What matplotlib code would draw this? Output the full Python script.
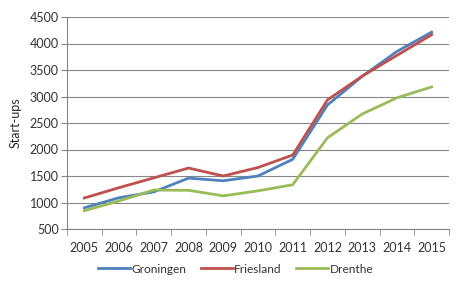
import matplotlib
matplotlib.use("Agg")
import matplotlib.pyplot as plt
import numpy as np

years = ["2005", "2006", "2007", "2008", "2009", "2010", "2011", "2012", "2013", "2014", "2015"]
groningen = [900, 1090, 1200, 1460, 1410, 1500, 1815, 2840, 3380, 3850, 4215]
friesland = [1085, 1280, 1465, 1650, 1500, 1660, 1895, 2935, 3385, 3775, 4165]
drenthe = [845, 1030, 1235, 1230, 1125, 1220, 1335, 2220, 2670, 2975, 3180]

plt.rcParams['font.family'] = ['Lato', 'DejaVu Sans']

fig = plt.figure(figsize=(4.6, 2.84), dpi=100)
ax = fig.add_axes([67/460, 1-229/284, (449-67)/460, (229-17)/284])

x = np.arange(len(years))
ax.plot(x, groningen, color='#4F81BD', lw=2.0, label='Groningen')
ax.plot(x, friesland, color='#C0504D', lw=2.0, label='Friesland')
ax.plot(x, drenthe, color='#9BBB59', lw=2.0, label='Drenthe')

ax.set_xlim(-0.5, len(years) - 0.5)
ax.set_ylim(500, 4500)
ax.set_yticks(range(500, 4501, 500))
ax.set_xticks(x)
ax.set_xticklabels(years)
ax.set_xticks(np.arange(-0.5, len(years), 1), minor=True)
ax.tick_params(axis='x', which='major', length=0, pad=9, labelsize=9, colors='#333333')
ax.tick_params(axis='x', which='minor', length=4, color='#868686')
ax.tick_params(axis='y', length=4, color='#868686', labelsize=9, colors='#333333', pad=2)
ax.tick_params(axis='y', direction='out')

ax.grid(axis='y', color='#868686', lw=0.8)
ax.set_axisbelow(True)
for s in ['top', 'right']:
    ax.spines[s].set_visible(False)
ax.spines['left'].set_color('#868686')
ax.spines['bottom'].set_color('#868686')

ax.set_ylabel('Start-ups', fontsize=9, color='#262626', labelpad=6)

fig.legend(loc='lower center', bbox_to_anchor=(0.512, -0.005), ncol=3, frameon=False,
           fontsize=8.6, handlelength=2.7, handletextpad=0.1, columnspacing=1.2,
           labelcolor='#333333')

fig.savefig('out.png', dpi=100)
